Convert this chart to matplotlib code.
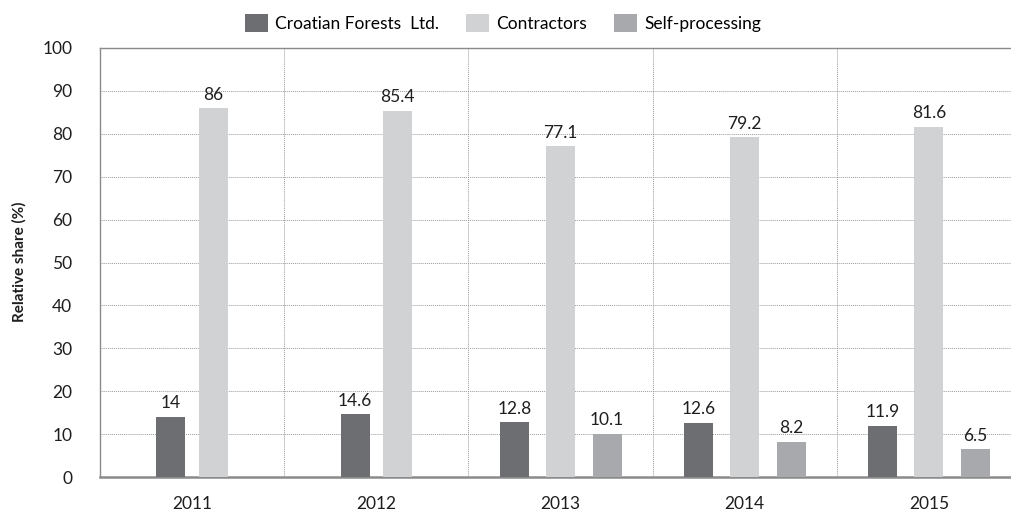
import matplotlib
matplotlib.use("Agg")
import matplotlib.pyplot as plt
from matplotlib.patches import Patch
import numpy as np

plt.rcParams['font.family'] = ['Lato', 'DejaVu Sans']

years = ["2011", "2012", "2013", "2014", "2015"]
series_names = ["Croatian Forests  Ltd.", "Contractors", "Self-processing"]
croatian_forests = [14, 14.6, 12.8, 12.6, 11.9]
contractors = [86, 85.4, 77.1, 79.2, 81.6]
self_processing = [None, None, 10.1, 8.2, 6.5]
colors = ["#6d6e71", "#d1d2d4", "#a7a9ac"]

W, H = 1011, 513
fig = plt.figure(figsize=(W / 100, H / 100), dpi=100)
ax = fig.add_axes([100 / W, 1 - 477 / H, 921 / W, 429 / H])

series = [croatian_forests, contractors, self_processing]
bw = 0.158
for i, yr in enumerate(years):
    present = [k for k in range(3) if series[k][i] is not None]
    if len(present) == 3:
        offs = [-0.251, 0.0, 0.253]
    else:
        offs = [-0.115, 0.115]
    for off, k in zip(offs, present):
        v = series[k][i]
        ax.bar(i + off, v, width=bw, color=colors[k], zorder=3)
        ax.annotate(f"{v:g}", (i + off, v), xytext=(0, 4), textcoords="offset points",
                    ha="center", va="bottom", fontsize=12.5, color="#1e1e1e", zorder=4)

ax.set_xlim(-0.5, 4.5)
ax.set_ylim(0, 100)
ax.set_yticks(np.arange(0, 101, 10))
ax.set_xticks(range(len(years)))
ax.set_xticklabels(years)
ax.tick_params(axis="both", length=0, labelsize=12.5, colors="#1e1e1e")
ax.tick_params(axis="y", pad=20)
ax.tick_params(axis="x", pad=14)

for y in range(10, 100, 10):
    ax.axhline(y, color="#9a9a9a", lw=0.7, ls=(0, (1, 1)), zorder=1)
for x in np.arange(0.5, 4.5, 1):
    ax.axvline(x, color="#9a9a9a", lw=0.7, ls=(0, (1, 1)), zorder=1)

for s in ["left", "top", "right"]:
    ax.spines[s].set_color("#8a8a8a")
    ax.spines[s].set_linewidth(1.0)
ax.spines["bottom"].set_color("#8a8a8a")
ax.spines["bottom"].set_linewidth(1.8)

fig.text(19 / W, 1 - 262 / H, "Relative share (%)", rotation=90, ha="center", va="center",
         fontsize=11, fontweight="bold", color="#1e1e1e")

handles = [Patch(facecolor=c, edgecolor="none") for c in colors]
fig.legend(handles, series_names, loc="center", bbox_to_anchor=(503 / W, 1 - 23 / H), ncol=3,
           frameon=False, fontsize=12.5, handlelength=1.3, handleheight=1.3,
           handletextpad=0.4, columnspacing=1.6)

fig.savefig("out.png", dpi=100)
